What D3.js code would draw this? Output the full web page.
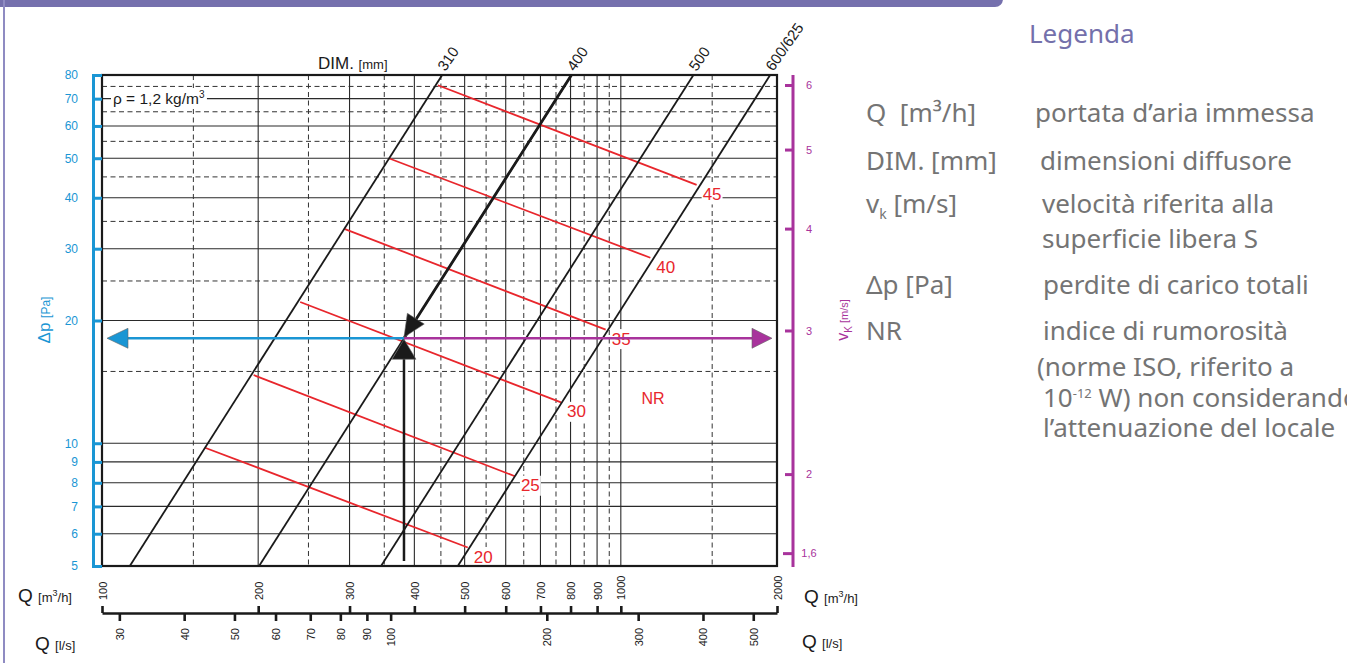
<!DOCTYPE html>
<html>
<head>
<meta charset="utf-8">
<script src="https://cdn.jsdelivr.net/npm/d3@7"></script>
<style>
  body { margin: 0; background: #fff; }
  svg { display: block; font-family: "Liberation Sans", Arial, sans-serif; }
  .legend text { font-family: "Noto Sans", sans-serif; fill: #747474; font-size: 26px; white-space: pre; }
</style>
</head>
<body>
<svg id="chart" width="1347" height="663"></svg>
<script>
// values
const dpTicks = [5, 6, 7, 8, 9, 10, 20, 30, 40, 50, 60, 70, 80];
const dpSolid = [6, 7, 8, 9, 10, 20, 30, 40, 50, 60, 70];
const dpDashed = [15, 25, 35, 45, 55, 65, 75];
const qTicks = [100, 200, 300, 400, 500, 600, 700, 800, 900, 1000, 2000];
const qSolid = [200, 300, 400, 500, 600, 700, 800, 900, 1000];
const qDashed = [150, 250, 350, 450, 550, 650, 750, 850, 950, 1500];
const lsTicks = [30, 40, 50, 60, 70, 80, 90, 100, 200, 300, 400, 500];
const vTicks = [6, 5, 4, 3, 2, 1.6];

// diffuser sizes: flow [m3/h] that gives 10 Pa (dp grows with Q^2)
const dimNames = ['310', '400', '500', '600/625'];
const dimQ10 = [160, 284, 488, 686];

// NR lines, [Q m3/h, dp Pa] at start (310 line) and end (600/625 line)
const nrNames = ['20', '25', '30', '35', '40', '45'];
const nrStart = [[158, 9.75], [196, 14.7], [241, 22.2], [294, 33.5], [357, 50], [444, 75.5]];
const nrEnd = [[507, 5.55], [625, 8.3], [767, 12.6], [935, 19], [1140, 28.5], [1400, 43]];

// worked example
const exampleQ = 382;
const exampleDim = '400';

// vk = vkFactor * sqrt(dp)
const vkFactor = 0.69;

const legendTerms = ['Q  [m³/h]', 'DIM. [mm]', 'vk [m/s]', 'Δp [Pa]', 'NR'];
const legendDescs = [
  ['portata d’aria immessa'],
  ['dimensioni diffusore'],
  ['velocità riferita alla', 'superficie libera S'],
  ['perdite di carico totali'],
  ['indice di rumorosità', '(norme ISO, riferito a', '10-12 W) non considerando', 'l’attenuazione del locale']
];

const blue = '#1a96d4';
const magenta = '#a8339c';
const red = '#e8262c';
const ink = '#1a1a1a';

const plot = { left: 102, right: 777, top: 75, bottom: 566 };

const svg = d3.select('#chart');

// frame of the page
svg.append('rect')
  .attr('x', -12).attr('y', -12)
  .attr('width', 1015).attr('height', 19)
  .attr('rx', 8)
  .attr('fill', '#7570ad');
svg.append('line')
  .attr('x1', 4).attr('x2', 4).attr('y1', 0).attr('y2', 663)
  .attr('stroke', '#8f8bc2').attr('stroke-width', 2);

// scales
const x = d3.scaleLog().domain([100, 2000]).range([plot.left, plot.right]);
const xLs = d3.scaleLog().domain([100 / 3.6, 2000 / 3.6]).range([plot.left, plot.right]);
const y = d3.scaleLog().domain([5, 80]).range([plot.bottom, plot.top]);
const yV = d3.scaleLog()
  .domain([2, 6])
  .range([y((2 / vkFactor) ** 2), y((6 / vkFactor) ** 2)]);

// grid
const grid = svg.append('g').attr('class', 'grid');
grid.selectAll('.hs').data(dpSolid).join('line')
  .attr('x1', plot.left).attr('x2', plot.right)
  .attr('y1', d => y(d)).attr('y2', d => y(d))
  .attr('stroke', '#2a2a2a').attr('stroke-width', 1.1);
grid.selectAll('.hd').data(dpDashed).join('line')
  .attr('x1', plot.left).attr('x2', plot.right)
  .attr('y1', d => y(d)).attr('y2', d => y(d))
  .attr('stroke', '#333').attr('stroke-width', 1).attr('stroke-dasharray', '5,3.5');
grid.selectAll('.vs').data(qSolid).join('line')
  .attr('y1', plot.top).attr('y2', plot.bottom)
  .attr('x1', d => x(d)).attr('x2', d => x(d))
  .attr('stroke', '#2a2a2a').attr('stroke-width', 1.1);
grid.selectAll('.vd').data(qDashed).join('line')
  .attr('y1', plot.top).attr('y2', plot.bottom)
  .attr('x1', d => x(d)).attr('x2', d => x(d))
  .attr('stroke', '#333').attr('stroke-width', 1).attr('stroke-dasharray', '5,3.5');

// helper: white box behind a text
function backWhite(text, pad) {
  const b = text.node().getBBox();
  text.node().parentNode.insertBefore(
    d3.create('svg:rect')
      .attr('x', b.x - pad).attr('y', b.y - pad / 2)
      .attr('width', b.width + 2 * pad).attr('height', b.height + pad)
      .attr('fill', '#fff').node(),
    text.node());
}

// density note
const rho = svg.append('text')
  .attr('x', 113).attr('y', 104)
  .attr('font-size', 15.5).attr('fill', ink);
rho.append('tspan').text('ρ = 1,2 kg/m');
rho.append('tspan').attr('font-size', 10).attr('dy', -6).text('3');
backWhite(rho, 2);

// NR lines
const nr = svg.append('g').attr('class', 'nr');
nrNames.forEach((name, i) => {
  const [q1, p1] = nrStart[i];
  const [q2, p2] = nrEnd[i];
  nr.append('line')
    .attr('x1', x(q1)).attr('y1', y(p1))
    .attr('x2', x(q2)).attr('y2', y(p2))
    .attr('stroke', red).attr('stroke-width', 1.8);
  const t = nr.append('text')
    .attr('x', x(q2) + 6).attr('y', y(p2) + 15)
    .attr('font-size', 17).attr('fill', red)
    .text(name);
  backWhite(t, 1);
});
svg.append('text')
  .attr('x', 653).attr('y', 404)
  .attr('text-anchor', 'middle')
  .attr('font-size', 16).attr('fill', red)
  .text('NR');

// DIM lines (dp ~ Q^2)
const dimLine = d3.line().x(d => x(d[0])).y(d => y(d[1]));
const dims = svg.append('g').attr('class', 'dims');
dimNames.forEach((name, i) => {
  const pts = [5, 80].map(p => [dimQ10[i] * Math.sqrt(p / 10), p]);
  dims.append('path')
    .attr('d', dimLine(pts))
    .attr('fill', 'none')
    .attr('stroke', ink).attr('stroke-width', 1.8);
  dims.append('text')
    .attr('transform', `translate(${x(pts[1][0]) + 3},72) rotate(-55)`)
    .attr('font-size', 15).attr('fill', ink)
    .text(name);
});

const dimTitle = svg.append('text').attr('x', 318).attr('y', 69).attr('fill', ink);
dimTitle.append('tspan').attr('font-size', 17).text('DIM. ');
dimTitle.append('tspan').attr('font-size', 13).text('[mm]');

// worked example arrows
const q10 = dimQ10[dimNames.indexOf(exampleDim)];
const exampleDp = 10 * (exampleQ / q10) ** 2;
const px = x(exampleQ);
const py = y(exampleDp);

// upper part of the chosen DIM line drawn as arrow shaft
const topQ = q10 * Math.sqrt(80 / 10);
svg.append('line')
  .attr('x1', px).attr('y1', py)
  .attr('x2', x(topQ)).attr('y2', y(80))
  .attr('stroke', ink).attr('stroke-width', 2.8);

function arrowHead(tipX, tipY, dirX, dirY, len, half, fill) {
  const n = Math.hypot(dirX, dirY);
  const ux = dirX / n, uy = dirY / n;
  const bx = tipX + ux * len, by = tipY + uy * len;
  const pts = [[tipX, tipY], [bx - uy * half, by + ux * half], [bx + uy * half, by - ux * half]];
  svg.append('polygon')
    .attr('points', pts.map(p => p.join(',')).join(' '))
    .attr('fill', fill)
    .attr('stroke', '#666').attr('stroke-width', 0.6);
}

svg.append('line')
  .attr('x1', px).attr('x2', 125).attr('y1', py).attr('y2', py)
  .attr('stroke', blue).attr('stroke-width', 2.5);
arrowHead(107, py, 1, 0, 21, 10, blue);

svg.append('line')
  .attr('x1', px).attr('x2', 755).attr('y1', py).attr('y2', py)
  .attr('stroke', magenta).attr('stroke-width', 2.5);
arrowHead(772, py, -1, 0, 20, 10, magenta);

svg.append('line')
  .attr('x1', px).attr('x2', px).attr('y1', plot.bottom - 5).attr('y2', py + 18)
  .attr('stroke', ink).attr('stroke-width', 2.5);
arrowHead(px, py + 1, 0, 1, 20, 12, ink);

// arrow head on the DIM line, pointing at the reading
const dx = x(exampleQ * Math.SQRT2) - px;
const dy = y(exampleDp * 2) - py;
arrowHead(px, py - 1, dx, dy, 22, 10, ink);

// plot border
svg.append('rect')
  .attr('x', plot.left).attr('y', plot.top)
  .attr('width', plot.right - plot.left).attr('height', plot.bottom - plot.top)
  .attr('fill', 'none').attr('stroke', ink).attr('stroke-width', 2.2);

// left axis: dp
const dpAxis = svg.append('g')
  .attr('transform', 'translate(93,0)')
  .call(d3.axisLeft(y).tickValues(dpTicks).tickSize(-9).tickPadding(15).tickFormat(d3.format('d')));
dpAxis.selectAll('path, line').attr('stroke', blue).attr('stroke-width', 3);
dpAxis.selectAll('text').attr('fill', blue).attr('font-size', 12);
dpAxis.attr('font-family', null);

const dpTitle = svg.append('text')
  .attr('transform', 'translate(50,320) rotate(-90)')
  .attr('text-anchor', 'middle').attr('fill', blue);
dpTitle.append('tspan').attr('font-size', 17).text('Δp ');
dpTitle.append('tspan').attr('font-size', 12).text('[Pa]');

// right axis: vk
svg.append('line')
  .attr('x1', 793).attr('x2', 793).attr('y1', plot.top).attr('y2', plot.bottom + 1)
  .attr('stroke', magenta).attr('stroke-width', 3);
const vAxis = svg.append('g')
  .attr('transform', 'translate(793,0)')
  .call(d3.axisRight(yV).tickValues(vTicks).tickSize(-8).tickPadding(16)
    .tickFormat(d => String(d).replace('.', ',')));
vAxis.select('.domain').remove();
vAxis.selectAll('line').attr('stroke', magenta).attr('stroke-width', 3);
vAxis.selectAll('.tick').filter(d => d === 1.6).select('line').attr('x2', -10);
vAxis.selectAll('text').attr('fill', magenta).attr('font-size', 11).attr('text-anchor', 'middle');
vAxis.attr('font-family', null);

const vTitle = svg.append('text')
  .attr('transform', 'translate(848,320) rotate(-90)')
  .attr('text-anchor', 'middle').attr('fill', magenta);
vTitle.append('tspan').attr('font-size', 16).text('v');
vTitle.append('tspan').attr('font-size', 10).attr('dy', 4).text('K');
vTitle.append('tspan').attr('font-size', 11).attr('dy', -4).text(' [m/s]');

// bottom axes: Q in m3/h (above) and l/s (below)
const qAxis = svg.append('g')
  .attr('transform', `translate(0,613)`)
  .call(d3.axisTop(x).tickValues(qTicks).tickSize(7).tickSizeOuter(0).tickFormat(d3.format('d')));
qAxis.selectAll('path, line').attr('stroke', ink).attr('stroke-width', 2.6);
qAxis.selectAll('text')
  .attr('transform', 'rotate(-90)')
  .attr('x', 13).attr('y', 4).attr('dy', 0)
  .attr('text-anchor', 'start')
  .attr('fill', ink).attr('font-size', 11);
qAxis.attr('font-family', null);

const lsAxis = svg.append('g')
  .attr('transform', `translate(0,613)`)
  .call(d3.axisBottom(xLs).tickValues(lsTicks).tickSize(8).tickSizeOuter(0).tickFormat(d3.format('d')));
lsAxis.select('.domain').remove();
lsAxis.selectAll('line').attr('stroke', ink).attr('stroke-width', 2.6);
lsAxis.selectAll('text')
  .attr('transform', 'rotate(-90)')
  .attr('x', -15).attr('y', 4).attr('dy', 0)
  .attr('text-anchor', 'end')
  .attr('fill', ink).attr('font-size', 11);
lsAxis.attr('font-family', null);

function qTitle(xPos, yPos, unit, sup) {
  const t = svg.append('text').attr('x', xPos).attr('y', yPos).attr('fill', ink);
  t.append('tspan').attr('font-size', 19).text('Q ');
  t.append('tspan').attr('font-size', 13).text(unit);
  if (sup) {
    t.append('tspan').attr('font-size', 9).attr('dy', -6).text(sup);
    t.append('tspan').attr('font-size', 13).attr('dy', 6).text('/h]');
  }
}
qTitle(18, 602, '[m', '3');
qTitle(804, 603, '[m', '3');
qTitle(35, 650, '[l/s]');
qTitle(802, 648, '[l/s]');

// legend
const legend = svg.append('g').attr('class', 'legend');
legend.append('text')
  .attr('x', 1029).attr('y', 43)
  .style('fill', '#7470ab')
  .text('Legenda');

const termY = [122, 170, 213, 294, 340];
const descX = [[1035], [1040], [1042, 1042], [1043], [1043, 1037, 1043, 1043]];
const descY = [[122], [170], [213, 248], [294], [340, 376, 407, 437]];

legendTerms.forEach((term, i) => {
  const t = legend.append('text').attr('x', 866).attr('y', termY[i]);
  if (term.startsWith('vk')) {
    t.append('tspan').text('v');
    t.append('tspan').style('font-size', '14px').attr('dy', 6).text('k');
    t.append('tspan').attr('dy', -6).text(' [m/s]');
  } else {
    t.text(term);
  }
  legendDescs[i].forEach((line, j) => {
    const d = legend.append('text').attr('x', descX[i][j]).attr('y', descY[i][j]);
    if (line.startsWith('10-12')) {
      d.append('tspan').text('10');
      d.append('tspan').style('font-size', '13px').attr('dy', -9).text('-12');
      d.append('tspan').attr('dy', 9).text(' W) non considerando');
    } else {
      d.text(line);
    }
  });
});
</script>
</body>
</html>
